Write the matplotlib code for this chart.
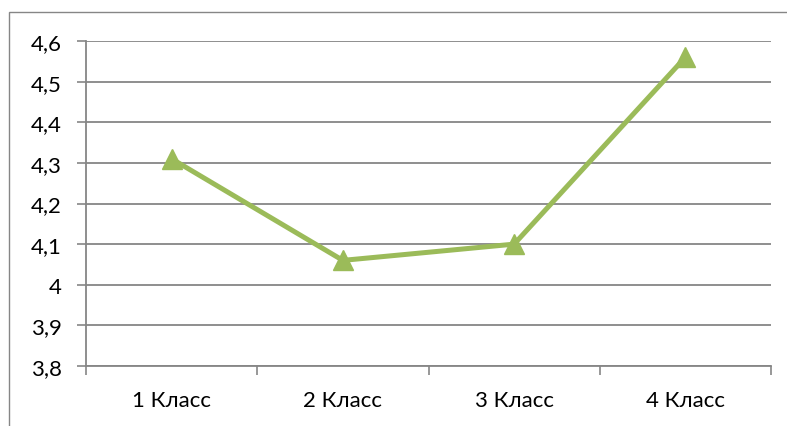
import matplotlib
matplotlib.use("Agg")
import matplotlib.pyplot as plt
from matplotlib.patches import Rectangle
from matplotlib.ticker import FixedLocator

plt.rcParams['font.family'] = ['Lato', 'DejaVu Sans']

classes = ["1 Класс", "2 Класс", "3 Класс", "4 Класс"]
scores = [4.31, 4.06, 4.10, 4.56]
y_ticks = [3.8, 3.9, 4.0, 4.1, 4.2, 4.3, 4.4, 4.5, 4.6]
y_labels = ["3,8", "3,9", "4", "4,1", "4,2", "4,3", "4,4", "4,5", "4,6"]

grey = "#868686"
green = "#9BBB59"

fig = plt.figure(figsize=(7.87, 4.27), dpi=100)
ax = fig.add_axes([86 / 787, 1 - 367 / 427, (771 - 86) / 787, (367 - 42) / 427])

# outer chart border
fig.patches.append(Rectangle((9 / 787, -0.02), 1.0, 1 - 13 / 427 + 0.02,
                             transform=fig.transFigure, fill=False,
                             edgecolor=grey, linewidth=1.0))

x = list(range(len(classes)))
ax.plot(x, scores, color=green, linewidth=3.6, marker="^", markersize=15,
        markeredgecolor=green, markerfacecolor=green, zorder=3)

ax.set_xlim(-0.5, len(classes) - 0.5)
ax.set_ylim(3.8, 4.6)
ax.set_yticks(y_ticks)
ax.set_yticklabels(y_labels)
ax.yaxis.grid(True, color=grey, linewidth=1.3)
ax.set_axisbelow(True)

ax.set_xticks(x)
ax.set_xticklabels(classes)
ax.xaxis.set_minor_locator(FixedLocator([i - 0.5 for i in range(len(classes) + 1)]))
ax.tick_params(axis="x", which="major", length=0, pad=17, labelsize=16)
ax.tick_params(axis="x", which="minor", length=6.5, width=1.2, color=grey)
ax.tick_params(axis="y", length=6.5, width=1.2, color=grey, pad=11, labelsize=16)

for side in ("top", "right"):
    ax.spines[side].set_visible(False)
for side in ("left", "bottom"):
    ax.spines[side].set_color(grey)
    ax.spines[side].set_linewidth(1.3)

fig.savefig("out.png", dpi=100)
